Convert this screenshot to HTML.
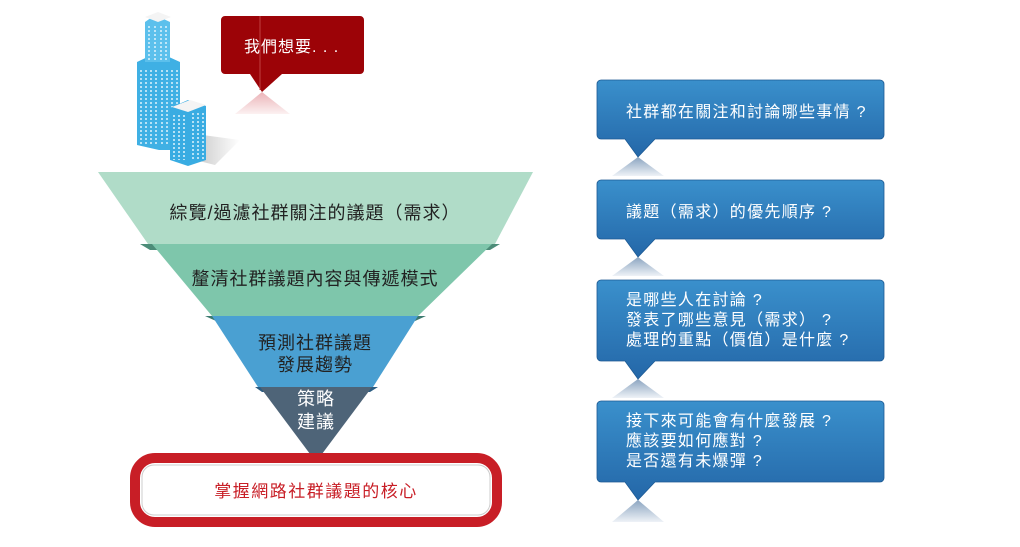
<!DOCTYPE html>
<html><head><meta charset="utf-8"><style>
body{margin:0;background:#fff;width:1020px;height:542px;overflow:hidden}
svg text{font-family:"Liberation Sans","Noto Sans CJK TC",sans-serif}
</style></head><body>
<svg width="1020" height="542" viewBox="0 0 1020 542" xmlns="http://www.w3.org/2000/svg">
<defs>
<linearGradient id="bx" x1="0" y1="0" x2="0" y2="1"><stop offset="0" stop-color="#3a90cc"/><stop offset="1" stop-color="#2467a8"/></linearGradient>
<linearGradient id="sh" x1="0" y1="0" x2="0" y2="1"><stop offset="0" stop-color="#8aa4c0"/><stop offset="1" stop-color="#eef2f7"/></linearGradient>
<linearGradient id="rsh" x1="0" y1="0" x2="0" y2="1"><stop offset="0" stop-color="#e6a0a6"/><stop offset="1" stop-color="#fbeeee"/></linearGradient>
<linearGradient id="gs" x1="0" y1="0" x2="1" y2="0"><stop offset="0" stop-color="#999"/><stop offset="1" stop-color="#fff"/></linearGradient>
</defs>
<!-- buildings -->
<polygon points="180,132 240,140 215,165 195,160" fill="url(#gs)" opacity="0.7"/>
<polygon points="137,62 158,52 180,62 180,150 159,150 137,145" fill="#3fb0e4"/>
<polygon points="145,22 155,15 170,22 170,62 145,62" fill="#5cc0ec"/>
<polygon points="145,17 158,12 171,17 158,22" fill="#f4f4f4"/>
<g stroke="#dff3fc" stroke-width="1.5" stroke-dasharray="2 2">
<line x1="141" y1="70" x2="141" y2="145"/><line x1="146" y1="70" x2="146" y2="145"/><line x1="151" y1="70" x2="151" y2="145"/><line x1="156" y1="70" x2="156" y2="145"/>
<line x1="162" y1="70" x2="162" y2="145"/><line x1="167" y1="70" x2="167" y2="145"/><line x1="172" y1="70" x2="172" y2="145"/><line x1="177" y1="70" x2="177" y2="145"/>
<line x1="149" y1="26" x2="149" y2="60"/><line x1="155" y1="26" x2="155" y2="60"/><line x1="161" y1="26" x2="161" y2="60"/><line x1="166" y1="26" x2="166" y2="60"/>
</g>
<polygon points="170,108 188,100 206,106 206,160 188,166 170,160" fill="#39ace2"/>
<polygon points="172,107 190,100 206,105 188,112" fill="#f4f4f4"/>
<g stroke="#dff3fc" stroke-width="1.5" stroke-dasharray="2 2">
<line x1="174" y1="115" x2="174" y2="160"/><line x1="179" y1="115" x2="179" y2="160"/><line x1="184" y1="115" x2="184" y2="160"/>
<line x1="193" y1="113" x2="193" y2="160"/><line x1="198" y1="113" x2="198" y2="160"/><line x1="203" y1="113" x2="203" y2="160"/>
</g>
<!-- red bubble -->
<polygon points="235,114 262,92 290,114" fill="url(#rsh)" opacity="0.8"/>
<path d="M225,16 H360 a4,4 0 0 1 4,4 V70 a4,4 0 0 1 -4,4 H282 L262,92 L250,74 H225 a4,4 0 0 1 -4,-4 V20 a4,4 0 0 1 4,-4z" fill="#9c0307"/>
<line x1="260" y1="16" x2="260" y2="90" stroke="#c04040" stroke-width="1"/>
<text x="244" y="52" font-size="16" fill="#fff" letter-spacing="1">我們想要. . .</text>
<!-- funnel -->
<polygon points="98,172 533,172 495,244 148,244" fill="#b0dcc8"/>
<polygon points="140,244 500,244 490,250 150,250" fill="#4c8c78"/>
<polygon points="152,244 492,244 418,316 212,316" fill="#7ec6ab"/>
<polygon points="205,316 426,316 415,321 216,321" fill="#3d7a70"/>
<polygon points="212,316 418,316 373,387 258,387" fill="#4aa0d2"/>
<polygon points="255,387 378,387 370,392 262,392" fill="#2b5d82"/>
<polygon points="260,387 372,387 316,462" fill="#4e6478"/>
<g font-size="18" fill="#222" text-anchor="middle" letter-spacing="1">
<text x="315" y="219">綜覽/過濾社群關注的議題（需求）</text>
<text x="315" y="285">釐清社群議題內容與傳遞模式</text>
<text x="315" y="349">預測社群議題</text>
<text x="315" y="371">發展趨勢</text>
<text x="316" y="405" fill="#fff">策略</text>
<text x="316" y="428" fill="#fff">建議</text>
</g>
<!-- core box -->
<rect x="135" y="458" width="362" height="64" rx="20" fill="#fff" stroke="#c81e26" stroke-width="10"/>
<rect x="142" y="465" width="348" height="50" rx="12" fill="none" stroke="#ccc" stroke-width="1"/>
<text x="316" y="497" font-size="17" fill="#c81e26" text-anchor="middle" letter-spacing="1.5">掌握網路社群議題的核心</text>
<!-- blue boxes -->
<g>
<polygon points="612,176 638,157 664,176" fill="url(#sh)"/>
<polygon points="612,276 638,257 664,276" fill="url(#sh)"/>
<polygon points="612,398 638,379 664,398" fill="url(#sh)"/>
<polygon points="612,522 638,500 664,522" fill="url(#sh)"/>
<path d="M601,80 H880 a4,4 0 0 1 4,4 V135 a4,4 0 0 1 -4,4 H655 L638,157 L625,139 H601 a4,4 0 0 1 -4,-4 V84 a4,4 0 0 1 4,-4z" fill="url(#bx)" stroke="#1d5a94" stroke-width="0.8"/>
<path d="M601,180 H880 a4,4 0 0 1 4,4 V235 a4,4 0 0 1 -4,4 H655 L638,257 L625,239 H601 a4,4 0 0 1 -4,-4 V184 a4,4 0 0 1 4,-4z" fill="url(#bx)" stroke="#1d5a94" stroke-width="0.8"/>
<path d="M601,280 H880 a4,4 0 0 1 4,4 V357 a4,4 0 0 1 -4,4 H655 L638,379 L625,361 H601 a4,4 0 0 1 -4,-4 V284 a4,4 0 0 1 4,-4z" fill="url(#bx)" stroke="#1d5a94" stroke-width="0.8"/>
<path d="M601,401 H880 a4,4 0 0 1 4,4 V478 a4,4 0 0 1 -4,4 H655 L638,500 L625,482 H601 a4,4 0 0 1 -4,-4 V405 a4,4 0 0 1 4,-4z" fill="url(#bx)" stroke="#1d5a94" stroke-width="0.8"/>
</g>
<g font-size="16" fill="#fff" letter-spacing="1.3">
<text x="626" y="117">社群都在關注和討論哪些事情 ?</text>
<text x="626" y="217">議題（需求）的優先順序 ?</text>
<text x="626" y="305">是哪些人在討論 ?</text>
<text x="626" y="325">發表了哪些意見（需求） ?</text>
<text x="626" y="345">處理的重點（價值）是什麼 ?</text>
<text x="626" y="426">接下來可能會有什麼發展 ?</text>
<text x="626" y="446">應該要如何應對 ?</text>
<text x="626" y="466">是否還有未爆彈 ?</text>
</g>
</svg>
</body></html>
